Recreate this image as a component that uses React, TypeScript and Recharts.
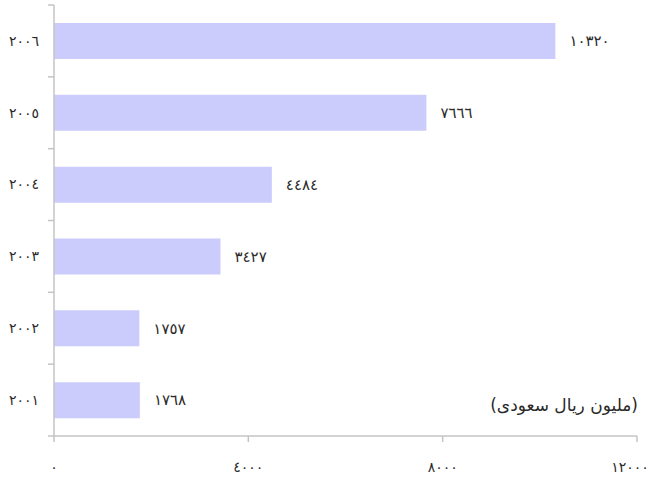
import React from 'react';
import { BarChart, Bar, XAxis, YAxis, LabelList } from 'recharts';

// years top to bottom, as drawn
const years = ['2006', '2005', '2004', '2003', '2002', '2001'];
const revenue = [10320, 7666, 4484, 3427, 1757, 1768];
const xTicks = [0, 4000, 8000, 12000];
const unitLabel = '(مليون ريال سعودى)';

const data = years.map((y, i) => ({ year: y, value: revenue[i] }));

const arabicDigits = (v: any) =>
  String(v).replace(/\d/g, (d) => '٠١٢٣٤٥٦٧٨٩'[Number(d)]);

const FONT = '"DejaVu Sans", sans-serif';
const AXIS = '#c4c4c4';
const INK = '#2a2a2a';

const YTick = (props: any) => {
  const { x, y, payload, index } = props;
  const half = payload && payload.offset ? payload.offset : 36;
  return (
    <g>
      <text x={x - 7} y={y} dy="0.35em" textAnchor="end" fontSize={14} fill={INK} fontFamily={FONT}>
        {arabicDigits(payload.value)}
      </text>
      <line x1={x + 2} x2={x + 8} y1={y + half} y2={y + half} stroke={AXIS} strokeWidth={1.5} />
      {index === 0 && (
        <line x1={x + 2} x2={x + 8} y1={y - half} y2={y - half} stroke={AXIS} strokeWidth={1.5} />
      )}
    </g>
  );
};

const ValueLabel = (props: any) => {
  const { x, y, width, height, value } = props;
  return (
    <text
      x={x + width + 14}
      y={y + height / 2}
      dy="0.35em"
      fontSize={15}
      fill={INK}
      fontFamily={FONT}
    >
      {arabicDigits(value)}
    </text>
  );
};

export default function App() {
  return (
    <div style={{ position: 'absolute', left: 0, top: 0, width: 650, height: 487, background: '#fff' }}>
      <BarChart
        width={650}
        height={487}
        data={data}
        layout="vertical"
        margin={{ top: 5, right: 13, bottom: 0, left: 0 }}
      >
        <XAxis
          type="number"
          dataKey="value"
          domain={[0, 12000]}
          ticks={xTicks}
          height={51}
          axisLine={{ stroke: AXIS, strokeWidth: 1.5 }}
          tickLine={{ stroke: AXIS, strokeWidth: 1.5 }}
          tickSize={6}
          tickMargin={20}
          tick={{ fill: INK, fontSize: 14, fontFamily: FONT }}
          tickFormatter={arabicDigits}
        />
        <YAxis
          type="category"
          dataKey="year"
          width={54}
          axisLine={{ stroke: AXIS, strokeWidth: 1.5 }}
          tickLine={false}
          tick={<YTick />}
        />
        <Bar dataKey="value" fill="#ccccfc" barSize={36} isAnimationActive={false}>
          <LabelList dataKey="value" content={<ValueLabel />} />
        </Bar>
      </BarChart>
      <div
        style={{
          position: 'absolute',
          right: 12,
          top: 395,
          fontSize: 17,
          fontFamily: FONT,
          color: INK,
          direction: 'rtl',
          whiteSpace: 'nowrap',
        }}
      >
        {unitLabel}
      </div>
    </div>
  );
}
